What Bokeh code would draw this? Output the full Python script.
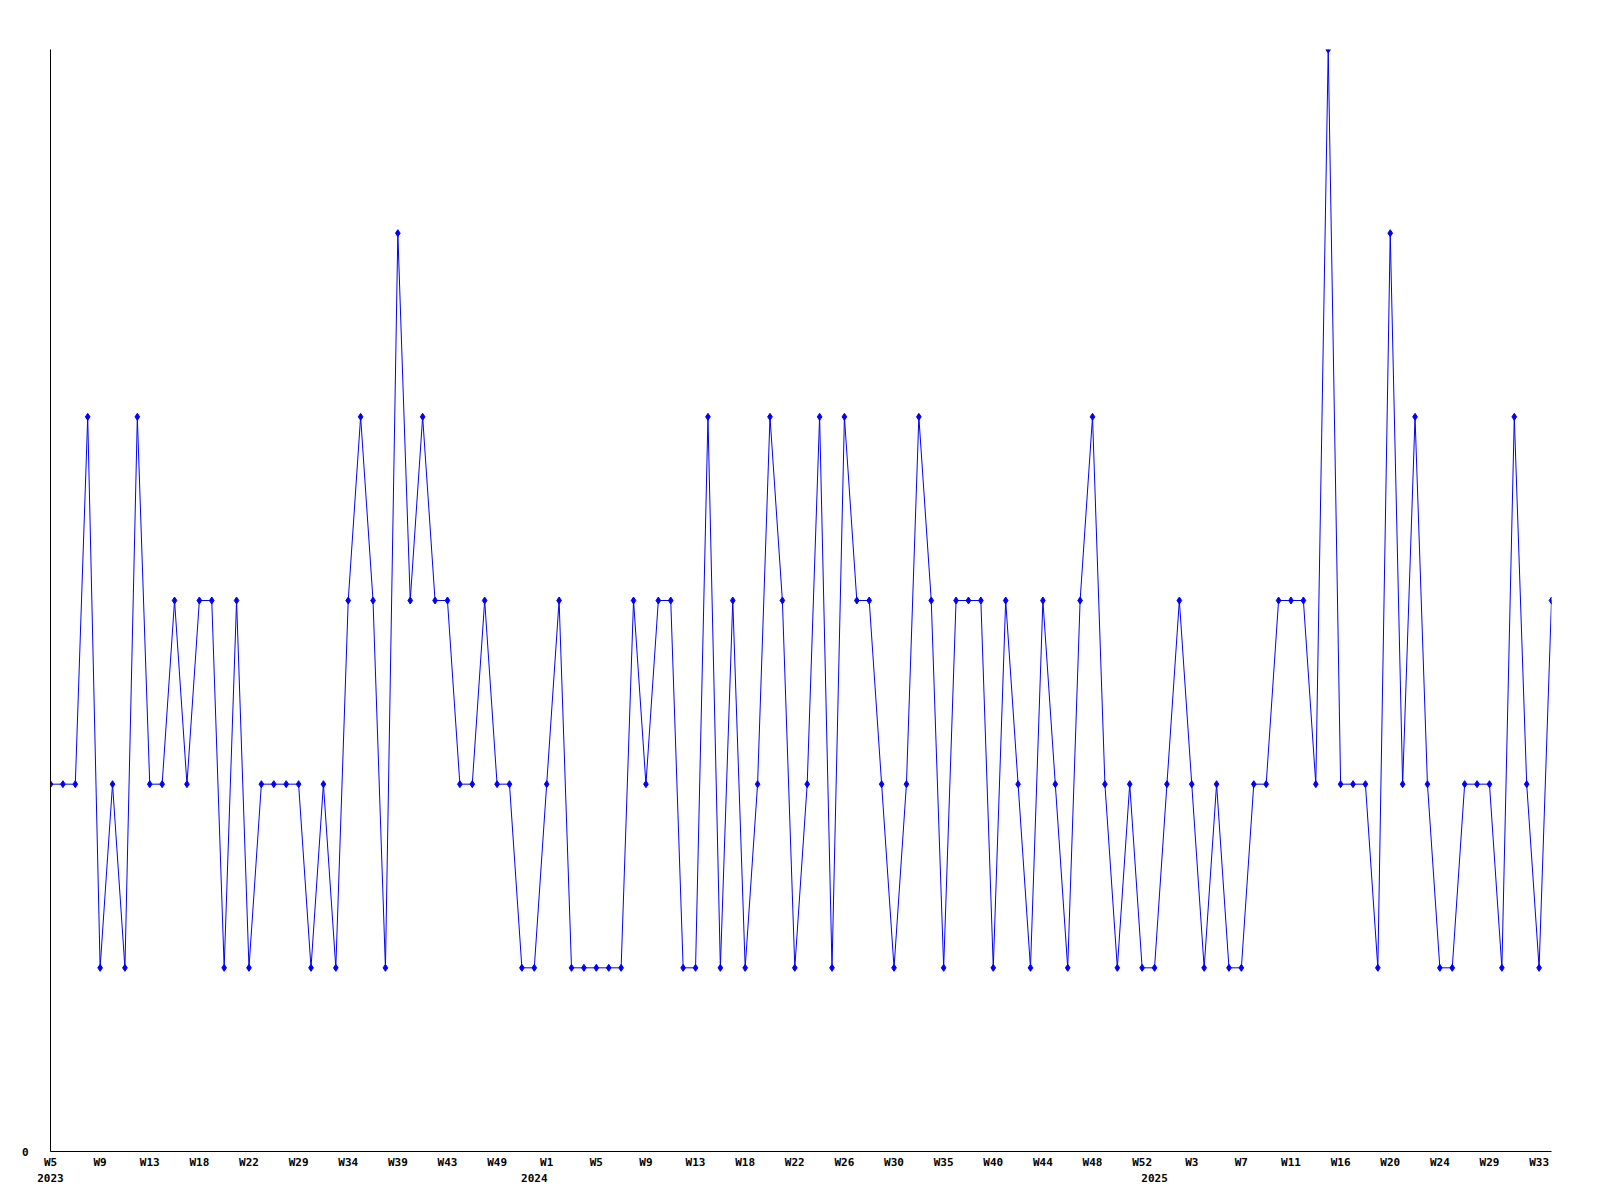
from bokeh.plotting import figure
from bokeh.models import Range1d, LinearAxis, FixedTicker, ColumnDataSource
from bokeh.embed import file_html
from bokeh.resources import INLINE

# Weekly values (one point per week that has data), W5 2023 ... W34 2025
values = [2, 2, 2, 4, 1, 2, 1, 4, 2, 2, 3, 2, 3, 3, 1, 3, 1, 2, 2, 2,
          2, 1, 2, 1, 3, 4, 3, 1, 5, 3, 4, 3, 3, 2, 2, 3, 2, 2, 1, 1,
          2, 3, 1, 1, 1, 1, 1, 3, 2, 3, 3, 1, 1, 4, 1, 3, 1, 2, 4, 3,
          1, 2, 4, 1, 4, 3, 3, 2, 1, 2, 4, 3, 1, 3, 3, 3, 1, 3, 2, 1,
          3, 2, 1, 3, 4, 2, 1, 2, 1, 1, 2, 3, 2, 1, 2, 1, 1, 2, 2, 3,
          3, 3, 2, 6, 2, 2, 2, 1, 5, 2, 4, 2, 1, 1, 2, 2, 2, 1, 4, 2, 1, 3]

# Week tick labels, one every 4th data point
week_labels = ["W5", "W9", "W13", "W18", "W22", "W29", "W34", "W39", "W43", "W49",
               "W1", "W5", "W9", "W13", "W18", "W22", "W26", "W30", "W35", "W40",
               "W44", "W48", "W52", "W3", "W7", "W11", "W16", "W20", "W24", "W29", "W33"]
label_step = 4

# Year labels and the index of the first point of each year
years = ["2023", "2024", "2025"]
year_index = [0, 39, 89]

y_ticks = [0]

xs = list(range(len(values)))
source = ColumnDataSource(data=dict(x=xs, y=values))

FONT = "DejaVu Sans Mono"

p = figure(width=1584, height=1192, output_backend="svg", toolbar_location=None,
           x_range=Range1d(0, len(values) - 1), y_range=Range1d(0, 6),
           x_axis_location=None, y_axis_location=None,
           min_border_left=50, min_border_right=33, min_border_top=49,
           min_border_bottom=41)
p.outline_line_color = None
p.xgrid.visible = False
p.ygrid.visible = False
p.background_fill_color = "white"
p.border_fill_color = "white"

p.line("x", "y", source=source, line_color="#0000ff", line_width=1)
p.scatter("x", "y", source=source, marker="diamond", size=7,
          fill_color="#0000ff", line_color="#0000ff")

# y axis
yax = LinearAxis(ticker=FixedTicker(ticks=y_ticks))
yax.axis_line_color = "black"
yax.axis_line_width = 1
yax.major_tick_line_color = None
yax.minor_tick_line_color = None
yax.major_tick_out = 0
yax.major_tick_in = 0
yax.major_label_standoff = 22
yax.major_label_text_font = FONT
yax.major_label_text_font_style = "bold"
yax.major_label_text_font_size = "11px"
yax.major_label_text_color = "black"
p.add_layout(yax, "left")

# week axis
week_ticks = [i * label_step for i in range(len(week_labels))]
xax = LinearAxis(ticker=FixedTicker(ticks=week_ticks))
xax.major_label_overrides = {t: lab for t, lab in zip(week_ticks, week_labels)}
xax.axis_line_color = "black"
xax.axis_line_width = 1
xax.major_tick_line_color = None
xax.minor_tick_line_color = None
xax.major_tick_out = 0
xax.major_tick_in = 0
xax.major_label_standoff = 4
xax.major_label_text_font = FONT
xax.major_label_text_font_style = "bold"
xax.major_label_text_font_size = "11px"
xax.major_label_text_color = "black"
p.add_layout(xax, "below")

# year axis
yrax = LinearAxis(ticker=FixedTicker(ticks=year_index))
yrax.major_label_overrides = {t: lab for t, lab in zip(year_index, years)}
yrax.axis_line_color = None
yrax.major_tick_line_color = None
yrax.minor_tick_line_color = None
yrax.major_tick_out = 0
yrax.major_tick_in = 0
yrax.major_label_standoff = 2
yrax.major_label_text_font = FONT
yrax.major_label_text_font_style = "bold"
yrax.major_label_text_font_size = "11px"
yrax.major_label_text_color = "black"
p.add_layout(yrax, "below")

open("out.html", "w").write(file_html(p, INLINE))
